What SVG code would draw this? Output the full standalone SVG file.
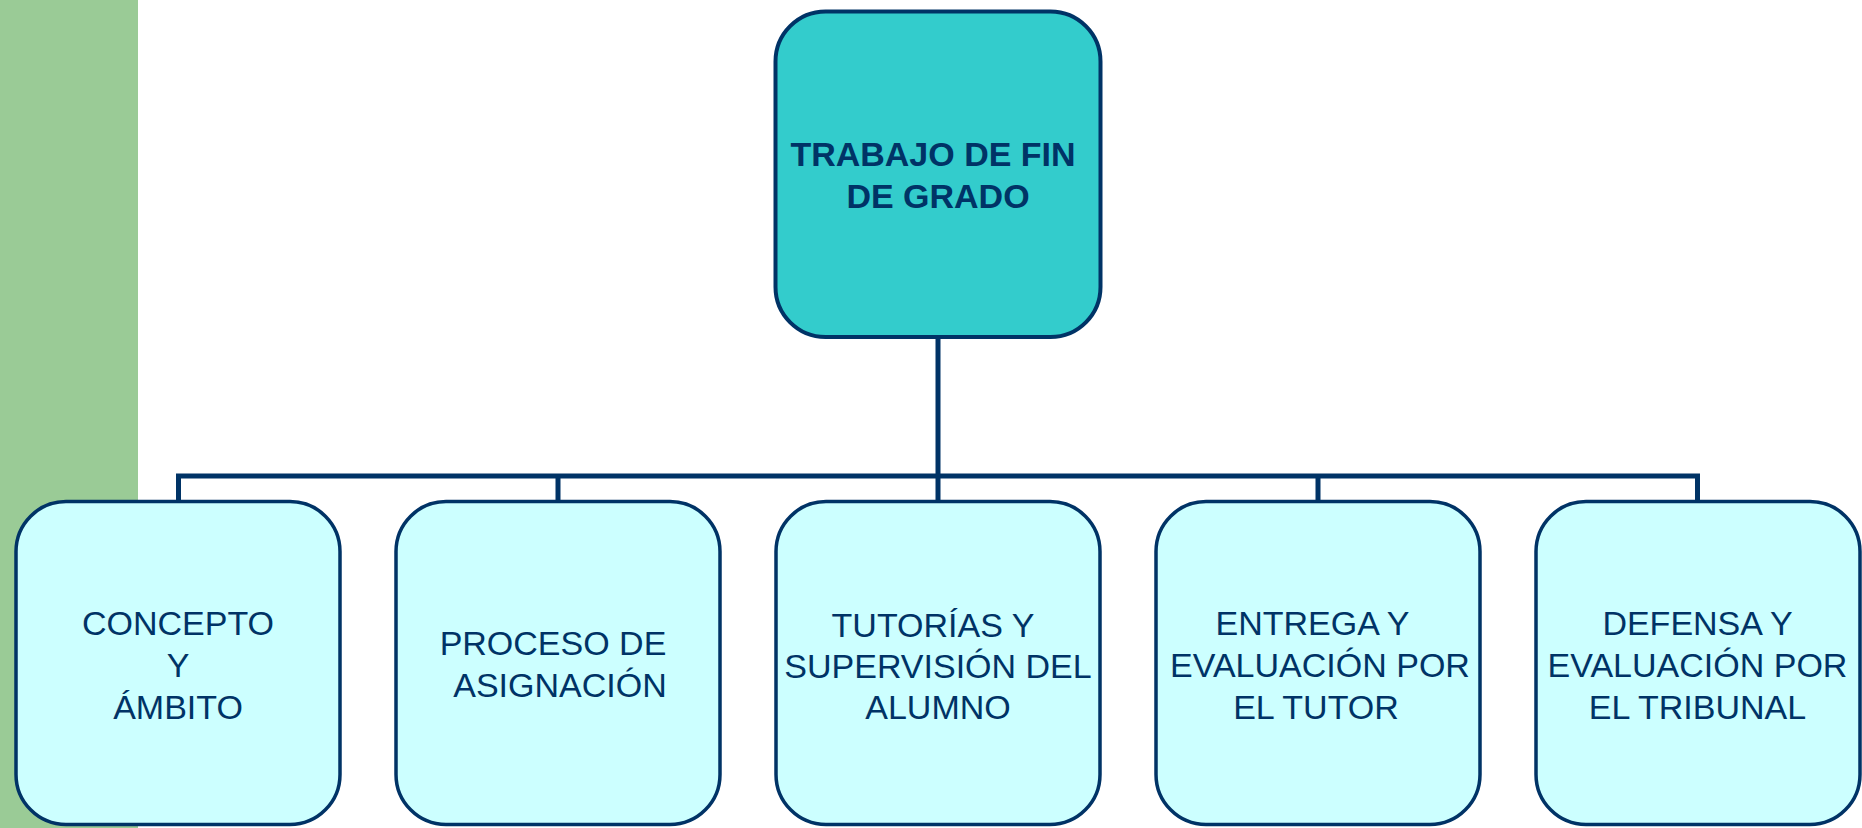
<svg xmlns="http://www.w3.org/2000/svg" width="1862" height="828" viewBox="0 0 1862 828">
<style>
.bg{fill:#ffffff}
.bar{fill:#9ACB96}
.root{fill:#33CCCC;stroke:#003366;stroke-width:4}
.child{fill:#CCFFFF;stroke:#003366;stroke-width:3.5}
.conn{fill:none;stroke:#003366;stroke-width:5}
text{font-family:"Liberation Sans",Arial,sans-serif;font-size:34px;fill:#003366;text-anchor:middle}
.b{font-weight:bold}
</style>
<rect class="bg" x="0" y="0" width="1862" height="828"/>
<rect class="bar" x="0" y="0" width="138" height="828"/>
<g id="connectors">
<path class="conn" d="M938 337 V476"/>
<path class="conn" d="M178.5 501 V476 H1697.5 V501"/>
<path class="conn" d="M558 501 V476 M938 476 V501 M1318 476 V501"/>
</g>
<g id="root">
<rect class="root" x="775.5" y="11.5" width="325" height="325.5" rx="50"/>
<text class="b" x="933" y="166">TRABAJO DE FIN</text>
<text class="b" x="938" y="208">DE GRADO</text>
</g>
<g id="n1">
<rect class="child" x="16" y="501.5" width="324" height="323" rx="50"/>
<text x="178" y="635">CONCEPTO</text>
<text x="178" y="677">Y</text>
<text x="178" y="719">ÁMBITO</text>
</g>
<g id="n2">
<rect class="child" x="396" y="501.5" width="324" height="323" rx="50"/>
<text x="553" y="655">PROCESO DE</text>
<text x="560" y="697">ASIGNACIÓN</text>
</g>
<g id="n3">
<rect class="child" x="776" y="501.5" width="324" height="323" rx="50"/>
<text x="933" y="636.5">TUTORÍAS Y</text>
<text x="938" y="677.5">SUPERVISIÓN DEL</text>
<text x="938" y="718.5">ALUMNO</text>
</g>
<g id="n4">
<rect class="child" x="1156" y="501.5" width="324" height="323" rx="50"/>
<text x="1312.5" y="635">ENTREGA Y</text>
<text x="1320" y="677">EVALUACIÓN POR</text>
<text x="1316" y="719">EL TUTOR</text>
</g>
<g id="n5">
<rect class="child" x="1536" y="501.5" width="324" height="323" rx="50"/>
<text x="1697.5" y="635">DEFENSA Y</text>
<text x="1697.5" y="677">EVALUACIÓN POR</text>
<text x="1697.5" y="719">EL TRIBUNAL</text>
</g>
</svg>
